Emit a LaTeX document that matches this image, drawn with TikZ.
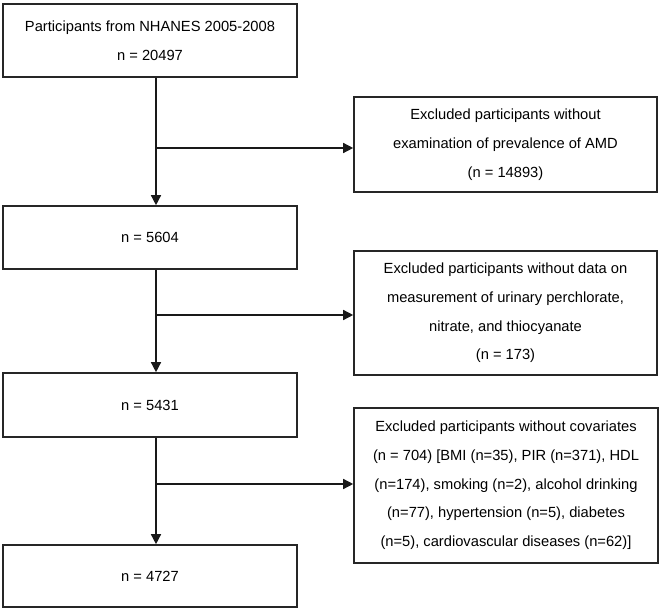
\documentclass[tikz,border=0pt]{standalone}
\usepackage{fontspec}
\setmainfont{Liberation Sans}
\usetikzlibrary{arrows.meta,positioning}

\begin{document}
\begin{tikzpicture}[x=1pt, y=-1pt,
    stage/.style={rectangle, draw=black!85, line width=1.6pt, minimum width=294pt, inner sep=0pt, align=center, font=\fontsize{14.7}{28.7}\selectfont},
    excluded/.style={rectangle, draw=black!85, line width=1.6pt, minimum width=303pt, inner sep=0pt, align=center, font=\fontsize{14.7}{28.7}\selectfont},
    flow/.style={-{Triangle[length=10pt, width=10pt]}, line width=1.4pt, black!90}
]
\useasboundingbox (0,0) rectangle (662,609);

% Main stages - left column
\node[stage, minimum height=73pt] (start) at (150,40.5) {Participants from NHANES 2005-2008\\n = 20497};
\node[stage, minimum height=63pt] (amd) at (150,237.5) {n = 5604};
\node[stage, minimum height=64pt] (urine) at (150,405) {n = 5431};
\node[stage, minimum height=62pt] (final) at (150,576) {n = 4727};

% Exclusion boxes - right column
\node[excluded, minimum height=95pt] (ex1) at (505.5,144.5) {Excluded participants without\\examination of prevalence of AMD\\(n = 14893)};
\node[excluded, minimum height=124pt] (ex2) at (505.5,313) {Excluded participants without data on\\measurement of urinary perchlorate,\\nitrate, and thiocyanate\\(n = 173)};
\node[excluded, minimum width=304pt, minimum height=155pt] (ex3) at (506,485.5) {Excluded participants without covariates\\(n = 704) [BMI (n=35), PIR (n=371), HDL\\(n=174), smoking (n=2), alcohol drinking\\(n=77), hypertension (n=5), diabetes\\(n=5), cardiovascular diseases (n=62)]};

% Branch points on the main line
\coordinate (b1) at (156,148);
\coordinate (b2) at (156,315);
\coordinate (b3) at (156,484);

% Main flow
\draw[flow] (start.south -| b1) -- (amd.north -| b1);
\draw[flow] (amd.south -| b2) -- (urine.north -| b2);
\draw[flow] (urine.south -| b3) -- (final.north -| b3);

% Exclusions
\draw[flow] (b1) -- (b1 -| ex1.west);
\draw[flow] (b2) -- (b2 -| ex2.west);
\draw[flow] (b3) -- (b3 -| ex3.west);

\end{tikzpicture}
\end{document}
